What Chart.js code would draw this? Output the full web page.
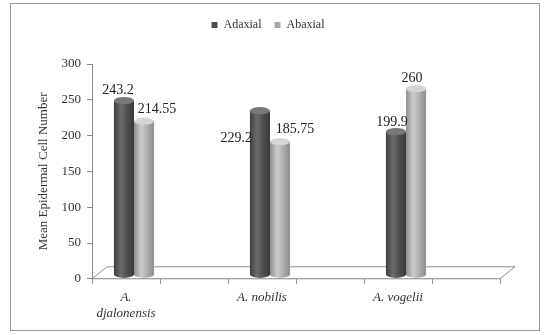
<!DOCTYPE html>
<html>
<head>
<meta charset="utf-8">
<script src="https://cdn.jsdelivr.net/npm/chart.js@4"></script>
<style>
  html, body { margin: 0; padding: 0; background: #fff; }
  #wrap { position: relative; width: 544px; height: 335px; }
  #wrap canvas { position: absolute; left: 0; top: 0; }
  #frame { position: absolute; left: 10px; top: 3px; width: 528px; height: 326px; border: 1px solid #9c9c9c; pointer-events: none; }
</style>
</head>
<body>
<div id="wrap">
  <canvas id="epiChart" width="544" height="335"></canvas>
  <div id="frame"></div>
</div>
<script>
// species, with an empty slot after each one (as in the original sheet)
const categories = [['A.', 'djalonensis'], 'A. nobilis', 'A. vogelii'];
const adaxial = [243.2, 229.2, 199.9];
const abaxial = [214.55, 185.75, 260];
const yTicks = [0, 50, 100, 150, 200, 250, 300];

const labels = categories.flatMap(c => [c, '']);
const spread = arr => arr.flatMap(v => [v, null]);

const serif = "'Liberation Serif', 'DejaVu Serif', serif";
const depth = { dx: 8, dy: -4 };   // columns sit a bit back on the floor

// 3d floor under the columns
const floorPlugin = {
  id: 'floor',
  beforeDatasetsDraw(chart) {
    const { ctx, chartArea: { left, right, bottom } } = chart;
    const dx = 15, dy = 12;
    ctx.save();
    ctx.beginPath();
    ctx.moveTo(left, bottom);
    ctx.lineTo(left + dx, bottom - dy);
    ctx.lineTo(right + dx, bottom - dy);
    ctx.lineTo(right, bottom);
    ctx.closePath();
    ctx.fillStyle = '#fff';
    ctx.fill();
    ctx.strokeStyle = '#8c8c8c';
    ctx.lineWidth = 1;
    ctx.stroke();
    ctx.restore();
  }
};

// skip the flat bars and draw each one as a shaded cylinder instead
const cylinderPlugin = {
  id: 'cylinder',
  beforeDatasetDraw() {
    return false;
  },
  afterDatasetsDraw(chart) {
    const ctx = chart.ctx;
    const shades = [
      ['#3e3e3e', '#6c6c6c', '#4c4c4c', '#383838', '#787878'],
      ['#8e8e8e', '#cdcdcd', '#aaaaaa', '#8c8c8c', '#d4d4d4']
    ];
    chart.data.datasets.forEach((ds, di) => {
      const meta = chart.getDatasetMeta(di);
      const s = shades[di];
      meta.data.forEach((bar, i) => {
        if (ds.data[i] == null) return;
        const p = bar.getProps(['x', 'y', 'base', 'width'], true);
        const x = p.x + depth.dx, y = p.y + depth.dy, base = p.base + depth.dy, width = p.width;
        const l = x - width / 2, r = x + width / 2;
        const ry = width * 0.18;
        const g = ctx.createLinearGradient(l, 0, r, 0);
        g.addColorStop(0, s[0]);
        g.addColorStop(0.35, s[1]);
        g.addColorStop(0.7, s[2]);
        g.addColorStop(1, s[3]);
        ctx.save();
        ctx.fillStyle = g;
        ctx.beginPath();
        ctx.moveTo(l, y);
        ctx.lineTo(l, base);
        ctx.ellipse(x, base, width / 2, ry, 0, Math.PI, 0, true);
        ctx.lineTo(r, y);
        ctx.closePath();
        ctx.fill();
        ctx.beginPath();
        ctx.ellipse(x, y, width / 2, ry, 0, 0, Math.PI * 2);
        ctx.fillStyle = s[4];
        ctx.fill();
        ctx.restore();
      });
    });
  }
};

// value labels, placed where Excel put them
const valueLabels = {
  id: 'valueLabels',
  afterDatasetsDraw(chart, args, opts) {
    const ctx = chart.ctx;
    ctx.save();
    ctx.font = '14px ' + serif;
    ctx.fillStyle = '#222';
    chart.data.datasets.forEach((ds, di) => {
      const meta = chart.getDatasetMeta(di);
      let k = 0;
      meta.data.forEach((bar, i) => {
        const v = ds.data[i];
        if (v == null) return;
        const x = bar.x + depth.dx, y = bar.y + depth.dy;
        const [ox, oy, side] = opts.offsets[di][k++];
        ctx.textBaseline = 'middle';
        if (side) {
          ctx.textAlign = 'right';
          ctx.fillText(String(v), x - bar.width / 2 + ox, y + oy);
        } else {
          ctx.textAlign = 'center';
          ctx.fillText(String(v), x + ox, y + oy);
        }
      });
    });
    ctx.restore();
  }
};

// extra room between legend and the plot
const legendGap = {
  id: 'legendGap',
  beforeInit(chart) {
    const fit = chart.legend.fit;
    chart.legend.fit = function () {
      fit.bind(chart.legend)();
      this.height += 23;
    };
  }
};

new Chart(document.getElementById('epiChart'), {
  type: 'bar',
  data: {
    labels: labels,
    datasets: [
      {
        label: 'Adaxial',
        data: spread(adaxial),
        backgroundColor: '#4d4d4d',
        borderWidth: 0,
        categoryPercentage: 0.59,
        barPercentage: 1.0
      },
      {
        label: 'Abaxial',
        data: spread(abaxial),
        backgroundColor: '#a9a9a9',
        borderWidth: 0,
        categoryPercentage: 0.59,
        barPercentage: 1.0
      }
    ]
  },
  options: {
    responsive: false,
    animation: false,
    layout: { padding: { left: 36, right: 44, top: 6, bottom: 8 } },
    plugins: {
      legend: {
        position: 'top',
        labels: {
          boxWidth: 6,
          boxHeight: 6,
          padding: 13,
          color: '#333',
          font: { family: serif, size: 12 }
        }
      },
      tooltip: { enabled: false },
      valueLabels: {
        offsets: [
          [[-6, -10], [2, 28, true], [-4, -9]],
          [[13, -12], [15, -12], [-4, -10]]
        ]
      }
    },
    scales: {
      x: {
        grid: { drawOnChartArea: false, tickLength: 5, color: '#8c8c8c' },
        border: { color: '#8c8c8c' },
        ticks: {
          autoSkip: false,
          maxRotation: 0,
          padding: 6,
          color: '#333',
          font: { family: serif, size: 13, style: 'italic' }
        }
      },
      y: {
        min: 0,
        max: 300,
        afterBuildTicks: scale => { scale.ticks = yTicks.map(v => ({ value: v })); },
        afterFit: scale => { scale.width = 56; },
        grid: { drawOnChartArea: false, tickLength: 5, color: '#8c8c8c' },
        border: { color: '#8c8c8c' },
        ticks: { padding: 6, color: '#333', font: { family: serif, size: 13 } },
        title: {
          display: true,
          text: 'Mean Epidermal Cell Number',
          color: '#333',
          padding: { top: 0, bottom: 2 },
          font: { family: serif, size: 13 }
        }
      }
    }
  },
  plugins: [floorPlugin, cylinderPlugin, valueLabels, legendGap]
});
</script>
</body>
</html>
